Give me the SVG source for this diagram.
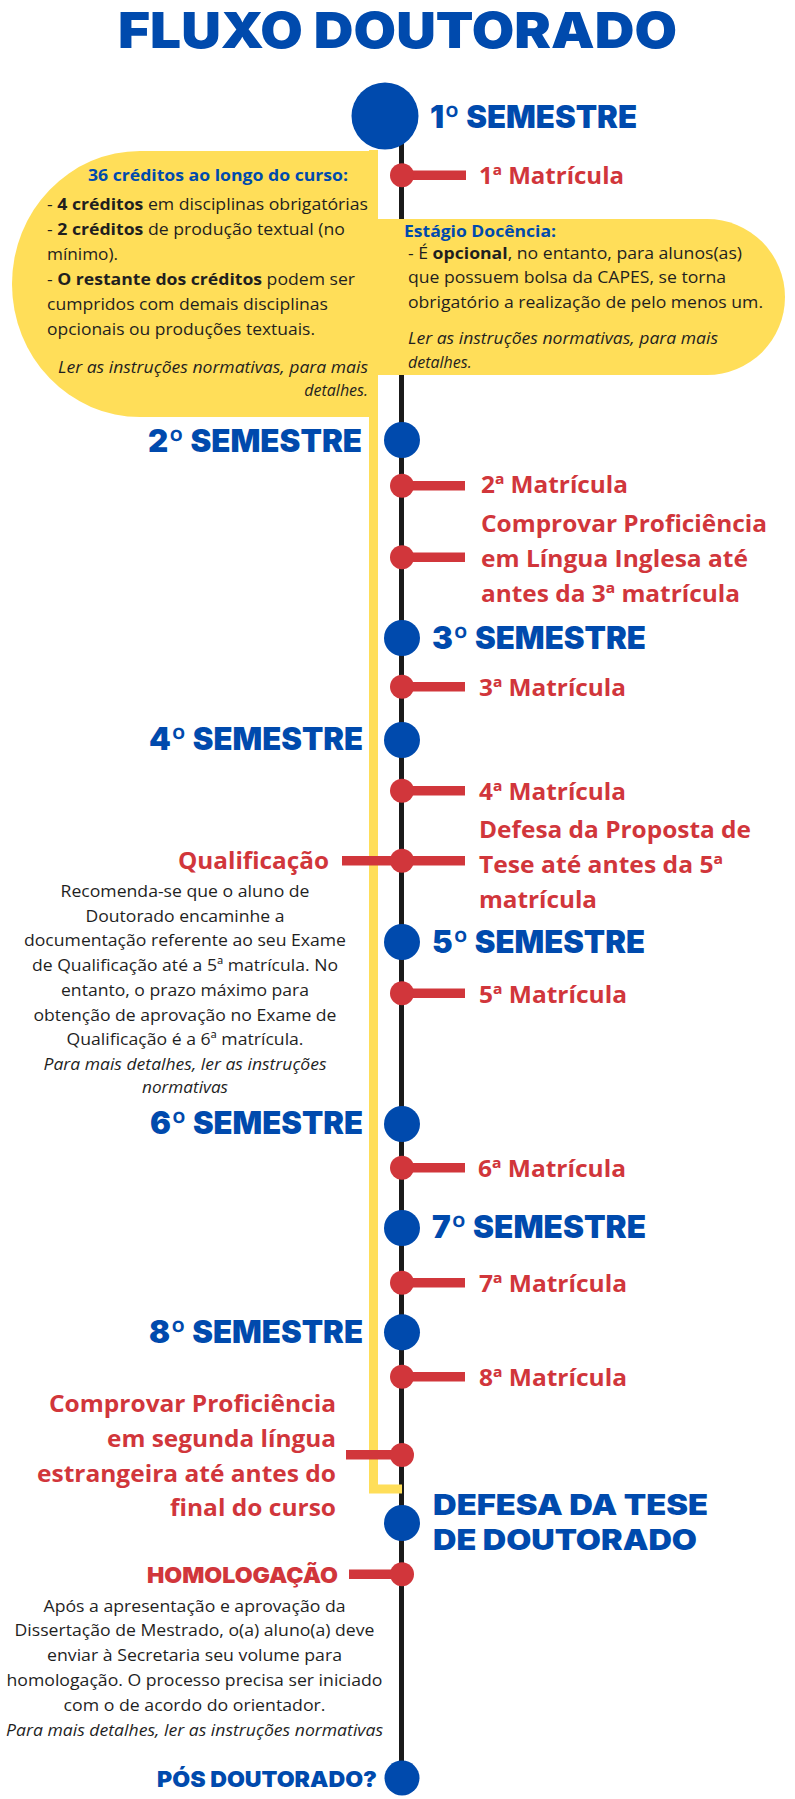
<svg xmlns="http://www.w3.org/2000/svg" width="795" height="1799" viewBox="0 0 795 1799">
<style>
.h{font-family:Inter,"Open Sans","Liberation Sans",sans-serif;font-weight:900;fill:#004AAD}
.t{font-size:50px}
.s{font-size:31px}
.d{font-size:28px}
.p{font-size:22px}
.r{font-family:"Open Sans","Liberation Sans",sans-serif;font-weight:700;fill:#D1363B;font-size:23px}
.b{font-family:"Open Sans","Liberation Sans",sans-serif;fill:#1f1f1f;font-size:16px}
.q{font-family:"Open Sans","Liberation Sans",sans-serif;fill:#1f1f1f;font-size:17px}
.bb{font-weight:700}
.blue{fill:#004AAD;font-weight:700}
.i{font-style:italic}
.yb{fill:#FFDE59}
.bc{fill:#004AAD}
.rd{fill:#D1363B}
</style>
<rect width="795" height="1799" fill="#ffffff"/>

<g id="title">
<text class="h t" x="118" y="48" textLength="559" lengthAdjust="spacingAndGlyphs">FLUXO DOUTORADO</text>
</g>

<g id="connectors">
<line x1="401.5" y1="116" x2="401.5" y2="1778" stroke="#1a1a1a" stroke-width="5"/>
<path d="M373.5 150 V1489 H402" fill="none" stroke="#FFDE59" stroke-width="9"/>
<rect class="rd" x="402" y="170.5" width="64" height="9.5"/>
<rect class="rd" x="402" y="481" width="63" height="9.5"/>
<rect class="rd" x="402" y="552.5" width="63" height="9.5"/>
<rect class="rd" x="402" y="682" width="63" height="9.5"/>
<rect class="rd" x="402" y="786" width="63" height="9.5"/>
<rect class="rd" x="342" y="856" width="123" height="9.5"/>
<rect class="rd" x="402" y="988.5" width="63" height="9.5"/>
<rect class="rd" x="402" y="1163" width="63" height="9.5"/>
<rect class="rd" x="402" y="1278" width="63" height="9.5"/>
<rect class="rd" x="402" y="1372" width="63" height="9.5"/>
<rect class="rd" x="346" y="1450" width="56" height="9.5"/>
<rect class="rd" x="349" y="1569.5" width="53" height="9.5"/>
</g>

<g id="box-creditos">
<path class="yb" d="M378 151 L140 151 A128 133 0 0 0 12 284 A128 133 0 0 0 140 417 L378 417 Z"/>
<text class="b blue" x="88" y="181" textLength="260" lengthAdjust="spacingAndGlyphs">36 créditos ao longo do curso:</text>
<text class="b" x="47" y="210" textLength="321" lengthAdjust="spacingAndGlyphs">- <tspan class="bb">4 créditos</tspan> em disciplinas obrigatórias</text>
<text class="b" x="47" y="235" textLength="298" lengthAdjust="spacingAndGlyphs">- <tspan class="bb">2 créditos</tspan> de produção textual (no</text>
<text class="b" x="47" y="260" textLength="71" lengthAdjust="spacingAndGlyphs">mínimo).</text>
<text class="b" x="47" y="285" textLength="308" lengthAdjust="spacingAndGlyphs">- <tspan class="bb">O restante dos créditos</tspan> podem ser</text>
<text class="b" x="47" y="310" textLength="281" lengthAdjust="spacingAndGlyphs">cumpridos com demais disciplinas</text>
<text class="b" x="47" y="335" textLength="268" lengthAdjust="spacingAndGlyphs">opcionais ou produções textuais.</text>
<text class="b i" x="368" y="372.5" text-anchor="end" textLength="310" lengthAdjust="spacingAndGlyphs">Ler as instruções normativas, para mais</text>
<text class="b i" x="368" y="396" text-anchor="end">detalhes.</text>
</g>

<g id="box-estagio">
<path class="yb" d="M378 219 L707 219 A78 78 0 0 1 707 375 L378 375 Z"/>
<text class="b blue" x="404" y="236.5" textLength="152" lengthAdjust="spacingAndGlyphs">Estágio Docência:</text>
<text class="b" x="408" y="258.5" textLength="334" lengthAdjust="spacingAndGlyphs">- É <tspan class="bb">opcional</tspan>, no entanto, para alunos(as)</text>
<text class="b" x="408" y="283" textLength="318" lengthAdjust="spacingAndGlyphs">que possuem bolsa da CAPES, se torna</text>
<text class="b" x="408" y="308" textLength="355" lengthAdjust="spacingAndGlyphs">obrigatório a realização de pelo menos um.</text>
<text class="b i" x="408" y="344" textLength="310" lengthAdjust="spacingAndGlyphs">Ler as instruções normativas, para mais</text>
<text class="b i" x="408" y="368">detalhes.</text>
</g>

<g id="sem1">
<circle class="bc" cx="385" cy="116" r="33.5"/>
<text class="h s" x="430" y="128" textLength="207" lengthAdjust="spacingAndGlyphs">1º SEMESTRE</text>
</g>
<g id="mat1">
<circle class="rd" cx="402" cy="175.2" r="12"/>
<text class="r" x="479" y="184" textLength="145" lengthAdjust="spacingAndGlyphs">1ª Matrícula</text>
</g>

<g id="sem2">
<circle class="bc" cx="402" cy="440" r="18"/>
<text class="h s" x="362" y="452" text-anchor="end" textLength="214" lengthAdjust="spacingAndGlyphs">2º SEMESTRE</text>
</g>
<g id="mat2">
<circle class="rd" cx="402" cy="485.7" r="12"/>
<text class="r" x="481" y="493" textLength="147" lengthAdjust="spacingAndGlyphs">2ª Matrícula</text>
</g>
<g id="ingles">
<circle class="rd" cx="402" cy="557.2" r="12"/>
<text class="r" x="481" y="532" textLength="286" lengthAdjust="spacingAndGlyphs">Comprovar Proficiência</text>
<text class="r" x="481" y="567" textLength="267" lengthAdjust="spacingAndGlyphs">em Língua Inglesa até</text>
<text class="r" x="481" y="602" textLength="259" lengthAdjust="spacingAndGlyphs">antes da 3ª matrícula</text>
</g>

<g id="sem3">
<circle class="bc" cx="402" cy="638" r="18"/>
<text class="h s" x="432" y="649" textLength="214" lengthAdjust="spacingAndGlyphs">3º SEMESTRE</text>
</g>
<g id="mat3">
<circle class="rd" cx="402" cy="686.7" r="12"/>
<text class="r" x="479" y="696" textLength="147" lengthAdjust="spacingAndGlyphs">3ª Matrícula</text>
</g>

<g id="sem4">
<circle class="bc" cx="402" cy="740" r="18"/>
<text class="h s" x="363" y="750" text-anchor="end" textLength="214" lengthAdjust="spacingAndGlyphs">4º SEMESTRE</text>
</g>
<g id="mat4">
<circle class="rd" cx="402" cy="790.7" r="12"/>
<text class="r" x="479" y="800" textLength="147" lengthAdjust="spacingAndGlyphs">4ª Matrícula</text>
</g>
<g id="proposta">
<text class="r" x="479" y="838" textLength="272" lengthAdjust="spacingAndGlyphs">Defesa da Proposta de</text>
<text class="r" x="479" y="873" textLength="244" lengthAdjust="spacingAndGlyphs">Tese até antes da 5ª</text>
<text class="r" x="479" y="908" textLength="118" lengthAdjust="spacingAndGlyphs">matrícula</text>
</g>
<g id="qualificacao">
<circle class="rd" cx="402" cy="860.7" r="12"/>
<text class="r" x="329" y="869" text-anchor="end" textLength="151" lengthAdjust="spacingAndGlyphs">Qualificação</text>
<text class="q" x="185" y="897" text-anchor="middle" textLength="249" lengthAdjust="spacingAndGlyphs">Recomenda-se que o aluno de</text>
<text class="q" x="185" y="921.5" text-anchor="middle" textLength="199" lengthAdjust="spacingAndGlyphs">Doutorado encaminhe a</text>
<text class="q" x="185" y="946" text-anchor="middle" textLength="322" lengthAdjust="spacingAndGlyphs">documentação referente ao seu Exame</text>
<text class="q" x="185" y="971" text-anchor="middle" textLength="306" lengthAdjust="spacingAndGlyphs">de Qualificação até a 5ª matrícula. No</text>
<text class="q" x="185" y="996" text-anchor="middle" textLength="248" lengthAdjust="spacingAndGlyphs">entanto, o prazo máximo para</text>
<text class="q" x="185" y="1020.5" text-anchor="middle" textLength="303" lengthAdjust="spacingAndGlyphs">obtenção de aprovação no Exame de</text>
<text class="q" x="185" y="1045" text-anchor="middle" textLength="237" lengthAdjust="spacingAndGlyphs">Qualificação é a 6ª matrícula.</text>
<text class="q i" x="185" y="1070" text-anchor="middle" textLength="283" lengthAdjust="spacingAndGlyphs">Para mais detalhes, ler as instruções</text>
<text class="q i" x="185" y="1093" text-anchor="middle" textLength="86" lengthAdjust="spacingAndGlyphs">normativas</text>
</g>

<g id="sem5">
<circle class="bc" cx="402" cy="942" r="18"/>
<text class="h s" x="432" y="953" textLength="213" lengthAdjust="spacingAndGlyphs">5º SEMESTRE</text>
</g>
<g id="mat5">
<circle class="rd" cx="402" cy="993.3" r="12"/>
<text class="r" x="479" y="1003" textLength="148" lengthAdjust="spacingAndGlyphs">5ª Matrícula</text>
</g>

<g id="sem6">
<circle class="bc" cx="402" cy="1124" r="18"/>
<text class="h s" x="363" y="1134" text-anchor="end" textLength="213" lengthAdjust="spacingAndGlyphs">6º SEMESTRE</text>
</g>
<g id="mat6">
<circle class="rd" cx="402" cy="1167.7" r="12"/>
<text class="r" x="478" y="1177" textLength="148" lengthAdjust="spacingAndGlyphs">6ª Matrícula</text>
</g>

<g id="sem7">
<circle class="bc" cx="402" cy="1228" r="18"/>
<text class="h s" x="432" y="1238" textLength="214" lengthAdjust="spacingAndGlyphs">7º SEMESTRE</text>
</g>
<g id="mat7">
<circle class="rd" cx="402" cy="1282.7" r="12"/>
<text class="r" x="479" y="1292" textLength="148" lengthAdjust="spacingAndGlyphs">7ª Matrícula</text>
</g>

<g id="sem8">
<circle class="bc" cx="402" cy="1332.3" r="18"/>
<text class="h s" x="363" y="1343" text-anchor="end" textLength="214" lengthAdjust="spacingAndGlyphs">8º SEMESTRE</text>
</g>
<g id="mat8">
<circle class="rd" cx="402" cy="1376.7" r="12"/>
<text class="r" x="479" y="1386" textLength="148" lengthAdjust="spacingAndGlyphs">8ª Matrícula</text>
</g>

<g id="segunda-lingua">
<circle class="rd" cx="402" cy="1455" r="12"/>
<text class="r" x="336" y="1412" text-anchor="end" textLength="287" lengthAdjust="spacingAndGlyphs">Comprovar Proficiência</text>
<text class="r" x="336" y="1447" text-anchor="end" textLength="229" lengthAdjust="spacingAndGlyphs">em segunda língua</text>
<text class="r" x="336" y="1482" text-anchor="end" textLength="299" lengthAdjust="spacingAndGlyphs">estrangeira até antes do</text>
<text class="r" x="336" y="1516" text-anchor="end" textLength="166" lengthAdjust="spacingAndGlyphs">final do curso</text>
</g>

<g id="defesa">
<circle class="bc" cx="402" cy="1523" r="18"/>
<text class="h d" x="433" y="1515" textLength="275" lengthAdjust="spacingAndGlyphs">DEFESA DA TESE</text>
<text class="h d" x="433" y="1550" textLength="264" lengthAdjust="spacingAndGlyphs">DE DOUTORADO</text>
</g>

<g id="homologacao">
<circle class="rd" cx="402" cy="1574.3" r="12"/>
<text class="h p" x="338" y="1583" text-anchor="end" textLength="191" lengthAdjust="spacingAndGlyphs" style="fill:#D1363B">HOMOLOGAÇÃO</text>
<text class="q" x="194.5" y="1611.5" text-anchor="middle" textLength="302" lengthAdjust="spacingAndGlyphs">Após a apresentação e aprovação da</text>
<text class="q" x="194.5" y="1636" text-anchor="middle" textLength="360" lengthAdjust="spacingAndGlyphs">Dissertação de Mestrado, o(a) aluno(a) deve</text>
<text class="q" x="194.5" y="1661" text-anchor="middle" textLength="295" lengthAdjust="spacingAndGlyphs">enviar à Secretaria seu volume para</text>
<text class="q" x="194.5" y="1686" text-anchor="middle" textLength="376" lengthAdjust="spacingAndGlyphs">homologação. O processo precisa ser iniciado</text>
<text class="q" x="194.5" y="1711" text-anchor="middle" textLength="262" lengthAdjust="spacingAndGlyphs">com o de acordo do orientador.</text>
<text class="q i" x="194.5" y="1736" text-anchor="middle" textLength="377" lengthAdjust="spacingAndGlyphs">Para mais detalhes, ler as instruções normativas</text>
</g>

<g id="pos">
<circle class="bc" cx="402" cy="1778" r="17.5"/>
<text class="h p" x="377" y="1787" text-anchor="end" textLength="220" lengthAdjust="spacingAndGlyphs">PÓS DOUTORADO?</text>
</g>
</svg>
